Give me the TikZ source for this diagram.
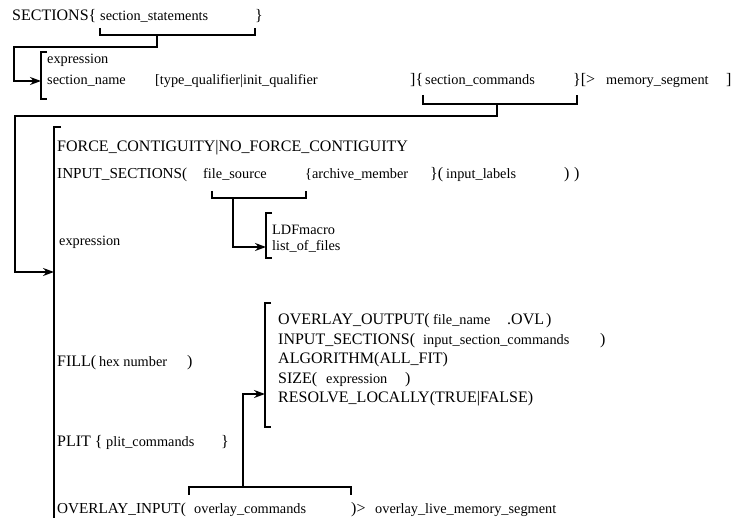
\documentclass[tikz,border=0pt]{standalone}
\usepackage{fontspec}
\setmainfont{Liberation Serif}
\usetikzlibrary{arrows.meta}

\tikzset{
  kw/.style={anchor=base west, inner sep=0pt, font=\fontsize{16}{19}\selectfont},
  kwn/.style={kw, font=\fontsize{15.2}{18}\selectfont},
  arg/.style={anchor=base west, inner sep=0pt, font=\fontsize{14.3}{17}\selectfont},
  rule/.style={black, line width=1.6pt},
}

\begin{document}
\begin{tikzpicture}[x=1pt, y=-1pt, >={Stealth[length=11pt,width=8pt]}]
\useasboundingbox (0,0) rectangle (732,518);
% top line
\node[kw]  (sec)    at (12,21)  {SECTIONS\{};
\node[arg] (secst)  at (100,21) {section\_statements};
\node[kw]  (secend) at (255,21) {\}};
\draw[rule] (100,28) -- (100,35) -- (255,35) -- (255,28);
\coordinate (stA) at (157,35);
\coordinate (inA) at (41,81);
\draw[rule,->] (stA) -- ++(0,12) -- ++(-143,0) |- (inA);
% section line
\draw[rule] (47,52) -- (41,52) -- (41,99) -- (47,99);
\node[arg] (expA)   at (47,64)  {expression};
\node[arg] (sname)  at (47,85)  {section\_name};
\node[arg] (qual)   at (155,85) {[type\_qualifier|init\_qualifier};
\node[kw]  (qend)   at (410,85) {]\{};
\node[arg] (scmd)   at (425,85) {section\_commands};
\node[kw]  (scend)  at (573,85) {\}[>};
\node[arg] (mseg)   at (606,85) {memory\_segment};
\node[kw]  (msend)  at (726,85) {]};
\draw[rule] (423,95) -- (423,104) -- (577,104) -- (577,95);
\coordinate (stB) at (497,104);
\coordinate (inB) at (54,272);
\draw[rule,->] (stB) -- ++(0,12) -- ++(-482,0) |- (inB);
% section commands
\draw[rule] (61,127) -- (54,127) -- (54,530);
\node[kw]  (force)  at (57,152)  {FORCE\_CONTIGUITY|NO\_FORCE\_CONTIGUITY};
\node[kwn] (insec)  at (57,179)  {INPUT\_SECTIONS(};
\node[arg] (fsrc)   at (203,179) {file\_source};
\node[arg] (arch)   at (305,179) {\{archive\_member};
\node[kw]  (archend) at (430,179) {\}(};
\node[arg] (ilab)   at (446,179) {input\_labels};
\node[kw]  (ilend)  at (564,179) {)};
\node[kw]  (insend) at (574,179) {)};
\draw[rule] (212,191) -- (212,198) -- (306,198) -- (306,191);
\coordinate (stC) at (233,198);
\coordinate (inC) at (266,247);
\draw[rule,->] (stC) |- (inC);
\draw[rule] (272,213) -- (266,213) -- (266,258) -- (272,258);
\node[arg] (ldf)    at (272,235) {LDFmacro};
\node[arg] (lof)    at (272,251) {list\_of\_files};
\node[arg] (expB)   at (59,246)  {expression};
\node[kw]  (fill)   at (57,367)  {FILL(};
\node[arg] (hex)    at (99,367)  {hex number};
\node[kw]  (fillend) at (187,367) {)};
\node[kw]  (plit)   at (57,447)  {PLIT \{};
\node[arg] (pcmd)   at (106,447) {plit\_commands};
\node[kw]  (plend)  at (221,447) {\}};
\node[kwn] (ovin)   at (57,514)  {OVERLAY\_INPUT(};
\node[arg] (ocmd)   at (194,514) {overlay\_commands};
\node[kw]  (ovend)  at (351,514) {)>};
\node[arg] (olive)  at (375,514) {overlay\_live\_memory\_segment};
\draw[rule] (189,495) -- (189,487) -- (351,487) -- (351,495);
\coordinate (stD) at (243,487);
\coordinate (inD) at (265,394);
\draw[rule,->] (stD) |- (inD);
% overlay commands
\draw[rule] (271,303) -- (265,303) -- (265,427) -- (271,427);
\node[kw]  (ovout)  at (278,325)   {OVERLAY\_OUTPUT(};
\node[arg] (fname)  at (433,325)   {file\_name};
\node[kw]  (ovl)    at (507,325)   {.OVL};
\node[kw]  (ovlend) at (546,325)   {)};
\node[kw]  (insecb) at (278,344.5) {INPUT\_SECTIONS(};
\node[arg] (iscmd)  at (423,344.5) {input\_section\_commands};
\node[kw]  (iscend) at (600,344.5) {)};
\node[kw]  (algo)   at (278,364)   {ALGORITHM(ALL\_FIT)};
\node[kw]  (size)   at (278,383.5) {SIZE(};
\node[arg] (sexp)   at (326,383.5) {expression};
\node[kw]  (sizend) at (405,383.5) {)};
\node[kw]  (resol)  at (278,403)   {RESOLVE\_LOCALLY(TRUE|FALSE)};
\end{tikzpicture}
\end{document}
